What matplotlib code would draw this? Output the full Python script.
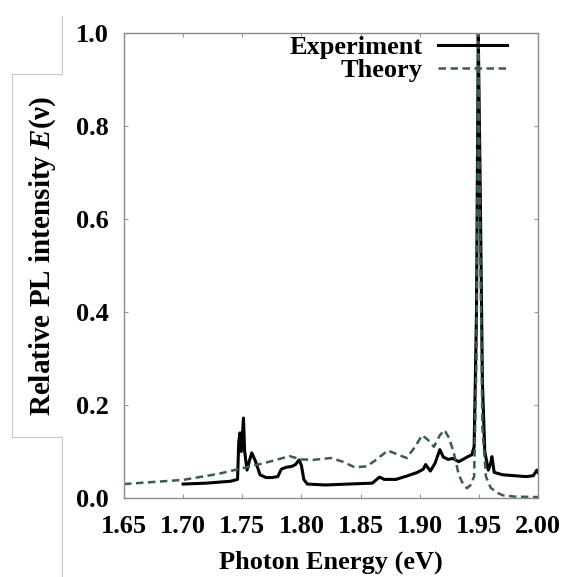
import matplotlib
matplotlib.use('Agg')
import matplotlib.pyplot as plt
from matplotlib.lines import Line2D

plt.rcParams['font.family'] = 'Liberation Serif'
plt.rcParams['font.weight'] = 'bold'
plt.rcParams['axes.labelweight'] = 'bold'
plt.rcParams['mathtext.fontset'] = 'custom'
plt.rcParams['mathtext.rm'] = 'Liberation Serif:bold'
plt.rcParams['mathtext.it'] = 'Liberation Serif:italic:bold'

# experiment spectrum
exp_x = [1.700, 1.720, 1.740, 1.746, 1.747, 1.748, 1.749, 1.750, 1.751, 1.752,
         1.754, 1.756, 1.758, 1.761, 1.765, 1.770, 1.775, 1.780, 1.783, 1.787,
         1.792, 1.795, 1.798, 1.800, 1.802, 1.805, 1.820, 1.840, 1.860, 1.866,
         1.870, 1.880, 1.890, 1.898, 1.903, 1.905, 1.909, 1.913, 1.917, 1.920,
         1.924, 1.928, 1.933, 1.940, 1.944, 1.946, 1.948, 1.9495, 1.951, 1.953,
         1.955, 1.958, 1.960, 1.961, 1.963, 1.970, 1.980, 1.990, 1.996, 1.999, 2.000]
exp_y = [0.030, 0.032, 0.036, 0.040, 0.120, 0.140, 0.100, 0.130, 0.172, 0.100,
         0.060, 0.080, 0.097, 0.080, 0.050, 0.044, 0.044, 0.046, 0.062, 0.066,
         0.068, 0.072, 0.082, 0.070, 0.040, 0.030, 0.028, 0.030, 0.032, 0.045,
         0.040, 0.040, 0.048, 0.055, 0.062, 0.072, 0.058, 0.075, 0.104, 0.088,
         0.083, 0.085, 0.078, 0.088, 0.093, 0.110, 0.400, 1.000, 0.700, 0.250,
         0.100, 0.060, 0.075, 0.089, 0.055, 0.050, 0.048, 0.046, 0.048, 0.060, 0.055]

# theory spectrum
th_x = [1.650, 1.700, 1.730, 1.750, 1.770, 1.790, 1.800, 1.810, 1.825, 1.835,
        1.845, 1.855, 1.862, 1.873, 1.880, 1.889, 1.896, 1.902, 1.907, 1.912,
        1.917, 1.921, 1.925, 1.929, 1.933, 1.937, 1.940, 1.943, 1.946, 1.948,
        1.9495, 1.951, 1.953, 1.956, 1.960, 1.965, 1.970, 1.980, 2.000]
th_y = [0.030, 0.039, 0.052, 0.064, 0.076, 0.090, 0.083, 0.082, 0.086, 0.078,
        0.066, 0.068, 0.080, 0.102, 0.095, 0.086, 0.110, 0.135, 0.125, 0.110,
        0.135, 0.146, 0.128, 0.095, 0.050, 0.028, 0.021, 0.028, 0.046, 0.300,
        1.000, 0.600, 0.150, 0.046, 0.022, 0.012, 0.006, 0.003, 0.002]

xticks = [1.65, 1.70, 1.75, 1.80, 1.85, 1.90, 1.95, 2.00]
yticks = [0.0, 0.2, 0.4, 0.6, 0.8, 1.0]

fig = plt.figure(figsize=(5.61, 5.77), dpi=100)
ax = fig.add_axes([124/561, 1-498/577, 414/561, 465/577])

ax.plot(exp_x, exp_y, color='black', lw=2.2, label='Experiment')
ax.plot(th_x, th_y, color='#3b5c52', lw=1.8, dashes=(3.0, 1.8), label='Theory')

ax.set_xlim(1.65, 2.00)
ax.set_ylim(0.0, 1.0)
ax.set_xticks(xticks)
ax.set_xticklabels(['%.2f' % t for t in xticks])
ax.set_yticks(yticks)
ax.set_yticklabels(['%.1f' % t for t in yticks])
ax.tick_params(direction='in', length=3, width=0.8, color='#999999',
               top=True, right=True, labelsize=19, pad=12)
ax.tick_params(axis='y', pad=11)
for s in ax.spines.values():
    s.set_color('#8c8c8c')
    s.set_linewidth(1.0)

ax.set_xlabel('Photon Energy (eV)', fontsize=19, fontweight='bold', labelpad=9)
fig.text(43/561, 1-256/577, r'Relative PL intensity $E$(ν)', fontsize=21,
         rotation=90, ha='center', va='center')

ax.legend(loc='upper right', bbox_to_anchor=(0.925, 0.995), frameon=False,
          markerfirst=False, fontsize=19, handlelength=2.6, handletextpad=0.6,
          borderpad=0, borderaxespad=0, labelspacing=0.0)

# faint scan frame around the y label
gray = '#c8c8c8'
pts = [(62, 16), (62, 74), (12, 74), (12, 437), (62, 437), (62, 577)]
xs = [p[0]/561 for p in pts]
ys = [1-p[1]/577 for p in pts]
fig.add_artist(Line2D(xs, ys, color=gray, lw=0.8))

fig.savefig('out.png', dpi=100)
